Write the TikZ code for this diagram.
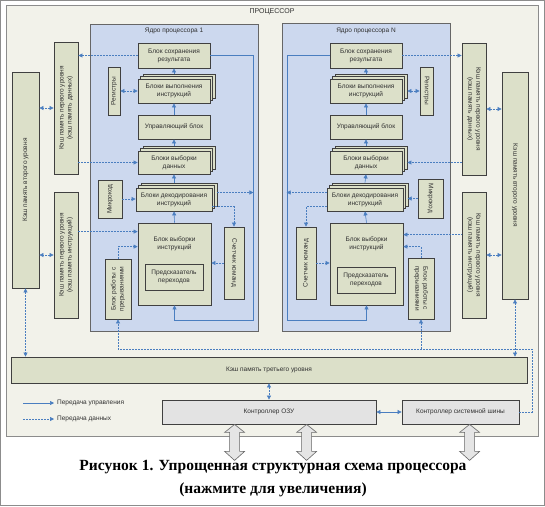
\documentclass[tikz,border=0pt]{standalone}
\usepackage{fontspec}
\setmainfont{Liberation Serif}
\setsansfont{Liberation Sans}
\usepackage{graphicx}
\usetikzlibrary{shadows,arrows.meta}
\definecolor{panelbg}{HTML}{F2F2EA}
\definecolor{corebg}{HTML}{CCD8EE}
\definecolor{blkfill}{HTML}{DCE0C9}
\definecolor{ctrlfill}{HTML}{E3E3E3}
\definecolor{linkblue}{HTML}{4A7EC0}
\definecolor{txtgray}{HTML}{303030}
\newcommand{\vtxt}[2]{\rotatebox{#1}{\begin{tabular}{@{}c@{}}#2\end{tabular}}}

\begin{document}
\begin{tikzpicture}[
    x=1pt, y=-1pt,
    >={Triangle[length=4pt,width=4pt]},
    blk/.style={rectangle, draw=black!75, line width=0.8pt, fill=blkfill, text=txtgray, font=\sffamily\fontsize{6.5}{8}\selectfont, align=center, inner sep=1pt},
    stack/.style={blk, double copy shadow={shadow xshift=2.5pt, shadow yshift=2.5pt}},
    ctrlbox/.style={blk, fill=ctrlfill},
    core/.style={draw=black!60, line width=0.8pt, fill=corebg},
    lbl/.style={font=\sffamily\fontsize{6.5}{8}\selectfont, text=txtgray, inner sep=1pt},
    ctl/.style={draw=linkblue, line width=0.6pt, ->},
    data/.style={ctl, dash pattern=on 1.8pt off 1.2pt},
    bigarr/.style={draw=black!60, fill=black!10, line width=0.6pt}
]
\useasboundingbox (0,0) rectangle (545,506);
\draw[black!45] (0.5,0.5) rectangle (544.5,505.5);
\draw[black!45, fill=panelbg] (6,5) rectangle (538,436);
\draw[core] (90,24) rectangle (258,331);
\draw[core] (282,23) rectangle (450,331);

\node[lbl, font=\sffamily\fontsize{7}{8}\selectfont] (proc) at (272,12) {ПРОЦЕССОР};
\node[lbl] (core1t) at (174,31) {Ядро процессора 1};
\node[lbl] (core2t) at (366,31) {Ядро процессора N};

% core 1
\node[blk, minimum width=72, minimum height=25] (save1) at (174,55.5) {Блок сохранения\\результата};
\node[stack, minimum width=72, minimum height=24] (exec1) at (174,91) {Блоки выполнения\\инструкций};
\node[blk, minimum width=72, minimum height=24] (ctrl1) at (174,127) {Управляющий блок};
\node[stack, minimum width=72, minimum height=23] (dfetch1) at (174,162.5) {Блоки выборки\\данных};
\node[stack, minimum width=76, minimum height=23] (dec1) at (174,199.5) {Блоки декодирования\\инструкций};
\node[blk, minimum width=73, minimum height=82,
      label={[lbl, name=ifetch1t, anchor=north, align=center, yshift=-13pt]north:Блок выборки\\инструкций}] (ifetch1) at (174.5,264) {};
\node[blk, minimum width=58, minimum height=26] (pred1) at (174,277) {Предсказатель\\переходов};
\node[blk, minimum width=12, minimum height=48] (reg1) at (114,91) {\vtxt{90}{Регистры}};
\node[blk, minimum width=24, minimum height=38] (mcode1) at (110,199) {\vtxt{90}{Микрокод}};
\node[blk, minimum width=20, minimum height=72] (cnt1) at (234,263) {\vtxt{-90}{Счетчик команд}};
\node[blk, minimum width=26, minimum height=60] (intr1) at (118,289) {\vtxt{90}{Блок работы с\\прерываниями}};

% core N
\node[blk, minimum width=72, minimum height=25] (save2) at (366,55.5) {Блок сохранения\\результата};
\node[stack, minimum width=72, minimum height=24] (exec2) at (366,91) {Блоки выполнения\\инструкций};
\node[blk, minimum width=72, minimum height=24] (ctrl2) at (366,127) {Управляющий блок};
\node[stack, minimum width=72, minimum height=23] (dfetch2) at (366,162.5) {Блоки выборки\\данных};
\node[stack, minimum width=76, minimum height=23] (dec2) at (365,199.5) {Блоки декодирования\\инструкций};
\node[blk, minimum width=73, minimum height=82,
      label={[lbl, name=ifetch2t, anchor=north, align=center, yshift=-13pt]north:Блок выборки\\инструкций}] (ifetch2) at (366.5,264) {};
\node[blk, minimum width=58, minimum height=26] (pred2) at (366,280) {Предсказатель\\переходов};
\node[blk, minimum width=13, minimum height=48] (reg2) at (426.5,91) {\vtxt{-90}{Регистры}};
\node[blk, minimum width=25, minimum height=39] (mcode2) at (430.5,198.5) {\vtxt{-90}{Микрокод}};
\node[blk, minimum width=20, minimum height=72] (cnt2) at (306,263) {\vtxt{90}{Счетчик команд}};
\node[blk, minimum width=26, minimum height=61] (intr2) at (421,288.5) {\vtxt{-90}{Блок работы с\\прерываниями}};

% caches
\node[blk, minimum width=27, minimum height=216] (l2a) at (25.5,180) {\vtxt{90}{Кэш память второго уровня}};
\node[blk, minimum width=24, minimum height=132] (l1da) at (66,108) {\vtxt{90}{Кэш память первого уровня\\(кэш память данных)}};
\node[blk, minimum width=24, minimum height=126] (l1ia) at (66,255) {\vtxt{90}{Кэш память первого уровня\\(кэш память инструкций)}};
\node[blk, minimum width=26, minimum height=227] (l2b) at (515,185.5) {\vtxt{-90}{Кэш память второго уровня}};
\node[blk, minimum width=24, minimum height=132] (l1db) at (474,109) {\vtxt{-90}{Кэш память первого уровня\\(кэш память данных)}};
\node[blk, minimum width=24, minimum height=126] (l1ib) at (474,255) {\vtxt{-90}{Кэш память первого уровня\\(кэш память инструкций)}};
\node[blk, minimum width=516, minimum height=26] (l3) at (269,370) {Кэш память третьего уровня};
\node[ctrlbox, minimum width=214, minimum height=24] (ramc) at (269,412) {Контроллер ОЗУ};
\node[ctrlbox, minimum width=117, minimum height=24] (busc) at (460.5,412) {Контроллер системной шины};

% legend
\coordinate (lgc) at (23,403);
\coordinate (lgd) at (23,419);
\node[lbl, anchor=west] (lgctl) at (56,403) {Передача управления};
\node[lbl, anchor=west] (lgdata) at (56,419) {Передача данных};
\draw[ctl, shorten >=2pt] (lgc) -- (lgctl.west);
\draw[data, shorten >=2pt] (lgd) -- (lgdata.west);

% control flow
\coordinate (bus1) at (253,320);
\coordinate (bus2) at (287,320);
\draw[ctl] ([yshift=5pt]exec1.north) -- (save1.south);
\draw[ctl] (ctrl1.north) -- (exec1.south);
\draw[ctl] ([yshift=5pt]dfetch1.north) -- (ctrl1.south);
\draw[ctl] ([yshift=5pt]dec1.north) -- (dfetch1.south);
\draw[ctl] (ifetch1.north) -- (dec1.south);
\draw[ctl] (save1.east) -| (bus1) -| (ifetch1.south);
\draw[ctl] ([yshift=5pt]exec2.north) -- (save2.south);
\draw[ctl] (ctrl2.north) -- (exec2.south);
\draw[ctl] ([yshift=5pt]dfetch2.north) -- (ctrl2.south);
\draw[ctl] ([yshift=5pt]dec2.north) -- (dfetch2.south);
\draw[ctl] (ifetch2.north) -- (dec2.south);
\draw[ctl] (save2.west) -| (bus2) -| (ifetch2.south);
\draw[ctl, <->] (ramc.east) -- (busc.west);

% data flow
\draw[data] (save1.west) -- (save1.west -| l1da.east);
\draw[data] (l1da.east |- dfetch1) -- (dfetch1.west);
\draw[data, <->] (reg1.east) -- (exec1.west);
\draw[data] (mcode1.east) -- (mcode1.east -| dec1.west);
\draw[data] ([xshift=5pt, yshift=7pt]dec1.east) -- +(36,0);
\draw[data] ([yshift=-7pt]dec1.east) -| (cnt1.north);
\draw[data] (cnt1.west) -- (cnt1.west -| ifetch1.east);
\draw[data, <-] ([yshift=-9pt]ifetch1.north west) -- +(-60,0);
\draw[data] (intr1.north) |- ([yshift=-24pt]ifetch1.north west);
\draw[data] (save2.east) -- (save2.east -| l1db.west);
\draw[data] (l1db.west |- dfetch2) -- ([xshift=5pt]dfetch2.east);
\draw[data, <->] (reg2.west) -- ([xshift=5pt]exec2.east);
\draw[data] (mcode2.west) -- +(-10,0);
\draw[data] ([yshift=7pt]dec2.west) -- +(-40,0);
\draw[data] ([yshift=-7pt]dec2.west) -| (cnt2.north);
\draw[data] (cnt2.east) -- (cnt2.east -| ifetch2.west);
\draw[data, <-] ([yshift=-12pt]ifetch2.north east) -- +(59,0);
\draw[data] (intr2.north) |- ([yshift=-24pt]ifetch2.north east);
\draw[data, <->] (l1da.west) -- (l1da.west -| l2a.east);
\draw[data, <->] (l1ia.west) -- (l1ia.west -| l2a.east);
\draw[data, <->] (l1db.east) -- (l1db.east -| l2b.west);
\draw[data, <->] (l1ib.east) -- (l1ib.east -| l2b.west);
\draw[data, <->] (l2a.south) -- (l2a.south |- l3.north);
\draw[data, <->] (l2b.south) -- (l2b.south |- l3.north);
\draw[data, <->] (l3.south -| ramc.north) -- (ramc.north);
\coordinate (sb) at (532,349);
\draw[data] (busc.east) -| (sb) -| (intr1.south);
\draw[data] (intr2.south |- sb) -- (intr2.south);

% external buses
\foreach \n/\dx in {ramc/73, ramc/145, busc/68}
  \draw[bigarr] ([xshift=\dx pt]\n.south west) -- ++(10,8) -- ++(-5,0) -- ++(0,19) -- ++(5,0) -- ++(-10,9)
    -- ++(-10,-9) -- ++(5,0) -- ++(0,-19) -- ++(-5,0) -- cycle;

\node[font=\bfseries\fontsize{15.5}{23}\selectfont, align=center] (caption) at (273,478.5)
  {Рисунок 1. Упрощенная структурная схема процессора\\(нажмите для увеличения)};
\end{tikzpicture}
\end{document}
